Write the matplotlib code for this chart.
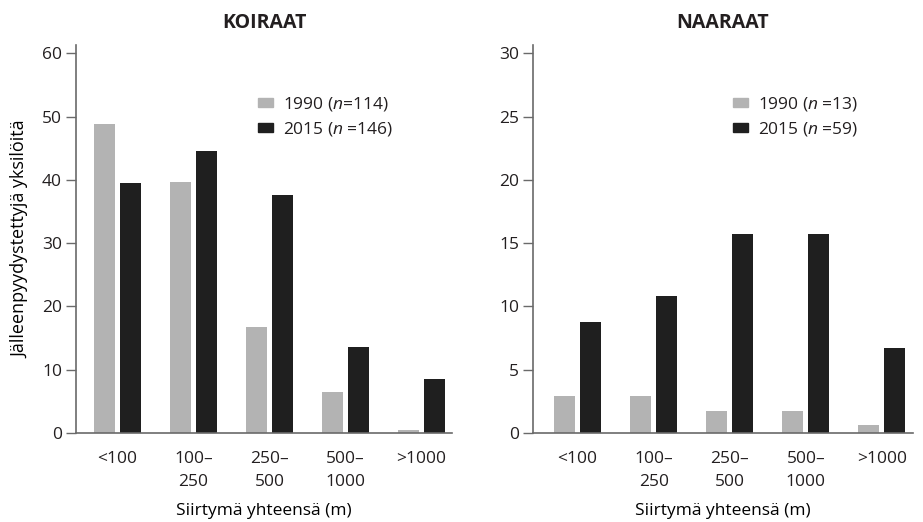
import matplotlib
matplotlib.use("Agg")
import matplotlib.pyplot as plt
from matplotlib.patches import Patch
import numpy as np

categories = ["<100", "100–\n250", "250–\n500", "500–\n1000", ">1000"]
males_1990 = [48.8, 39.6, 16.7, 6.5, 0.5]
males_2015 = [39.5, 44.5, 37.6, 13.6, 8.5]
females_1990 = [2.9, 2.9, 1.75, 1.75, 0.65]
females_2015 = [8.8, 10.8, 15.7, 15.7, 6.7]

titles = ["KOIRAAT", "NAARAAT"]
legends = [["1990 ($n$=114)", "2015 ($n$ =146)"],
           ["1990 ($n$ =13)", "2015 ($n$ =59)"]]
ylabel = "Jälleenpyydystettyjä yksilöitä"
xlabel = "Siirtymä yhteensä (m)"

c_old = "#b3b3b3"
c_new = "#1f1f1f"
txt = "#231f20"
spine = "#6a6a6a"

plt.rcParams.update({
    "font.family": ["Open Sans", "DejaVu Sans"],
    "font.size": 12.5,
    "mathtext.fontset": "custom",
    "mathtext.rm": "Open Sans",
    "mathtext.it": "Open Sans:italic",
    "text.color": txt,
    "xtick.color": txt,
    "ytick.color": spine,
    "ytick.labelcolor": txt,
})

fig = plt.figure(figsize=(9.23, 5.22), dpi=100)
ax1 = fig.add_axes([76 / 923, 89 / 522, 376 / 923, 388 / 522])
ax2 = fig.add_axes([533 / 923, 89 / 522, 380 / 923, 388 / 522])

x = np.arange(len(categories))
w = 0.276
off = 0.171

panels = [
    (ax1, males_1990, males_2015, 61.3, np.arange(0, 61, 10), (-0.546, 4.40), 0.484),
    (ax2, females_1990, females_2015, 30.65, np.arange(0, 31, 5), (-0.586, 4.41), 0.526),
]

for i, (ax, a, b, ytop, yt, xl, lx) in enumerate(panels):
    ax.bar(x - off, a, width=w, color=c_old)
    ax.bar(x + off, b, width=w, color=c_new)
    ax.set_ylim(0, ytop)
    ax.set_xlim(*xl)
    ax.set_yticks(yt)
    ax.set_xticks(x)
    ax.set_xticklabels(categories, linespacing=1.6)
    ax.tick_params(axis="x", length=0, pad=13)
    ax.tick_params(axis="y", length=7, width=1, direction="out", pad=3)
    for s in ["top", "right"]:
        ax.spines[s].set_visible(False)
    for s in ["left", "bottom"]:
        ax.spines[s].set_color(spine)
        ax.spines[s].set_linewidth(1.2)
    ax.set_xlabel(xlabel, labelpad=9)
    ax.set_title(titles[i], fontweight="bold", fontsize=14, pad=12)
    handles = [Patch(color=c_old), Patch(color=c_new)]
    ax.legend(handles, legends[i], loc="upper left", bbox_to_anchor=(lx, 0.871),
              frameon=False, borderpad=0, borderaxespad=0,
              handlelength=0.86, handleheight=0.46,
              handletextpad=0.57, labelspacing=0.4, fontsize=12.5)

ax1.set_ylabel(ylabel, labelpad=9, fontsize=13)

fig.savefig("out.png", dpi=100)
